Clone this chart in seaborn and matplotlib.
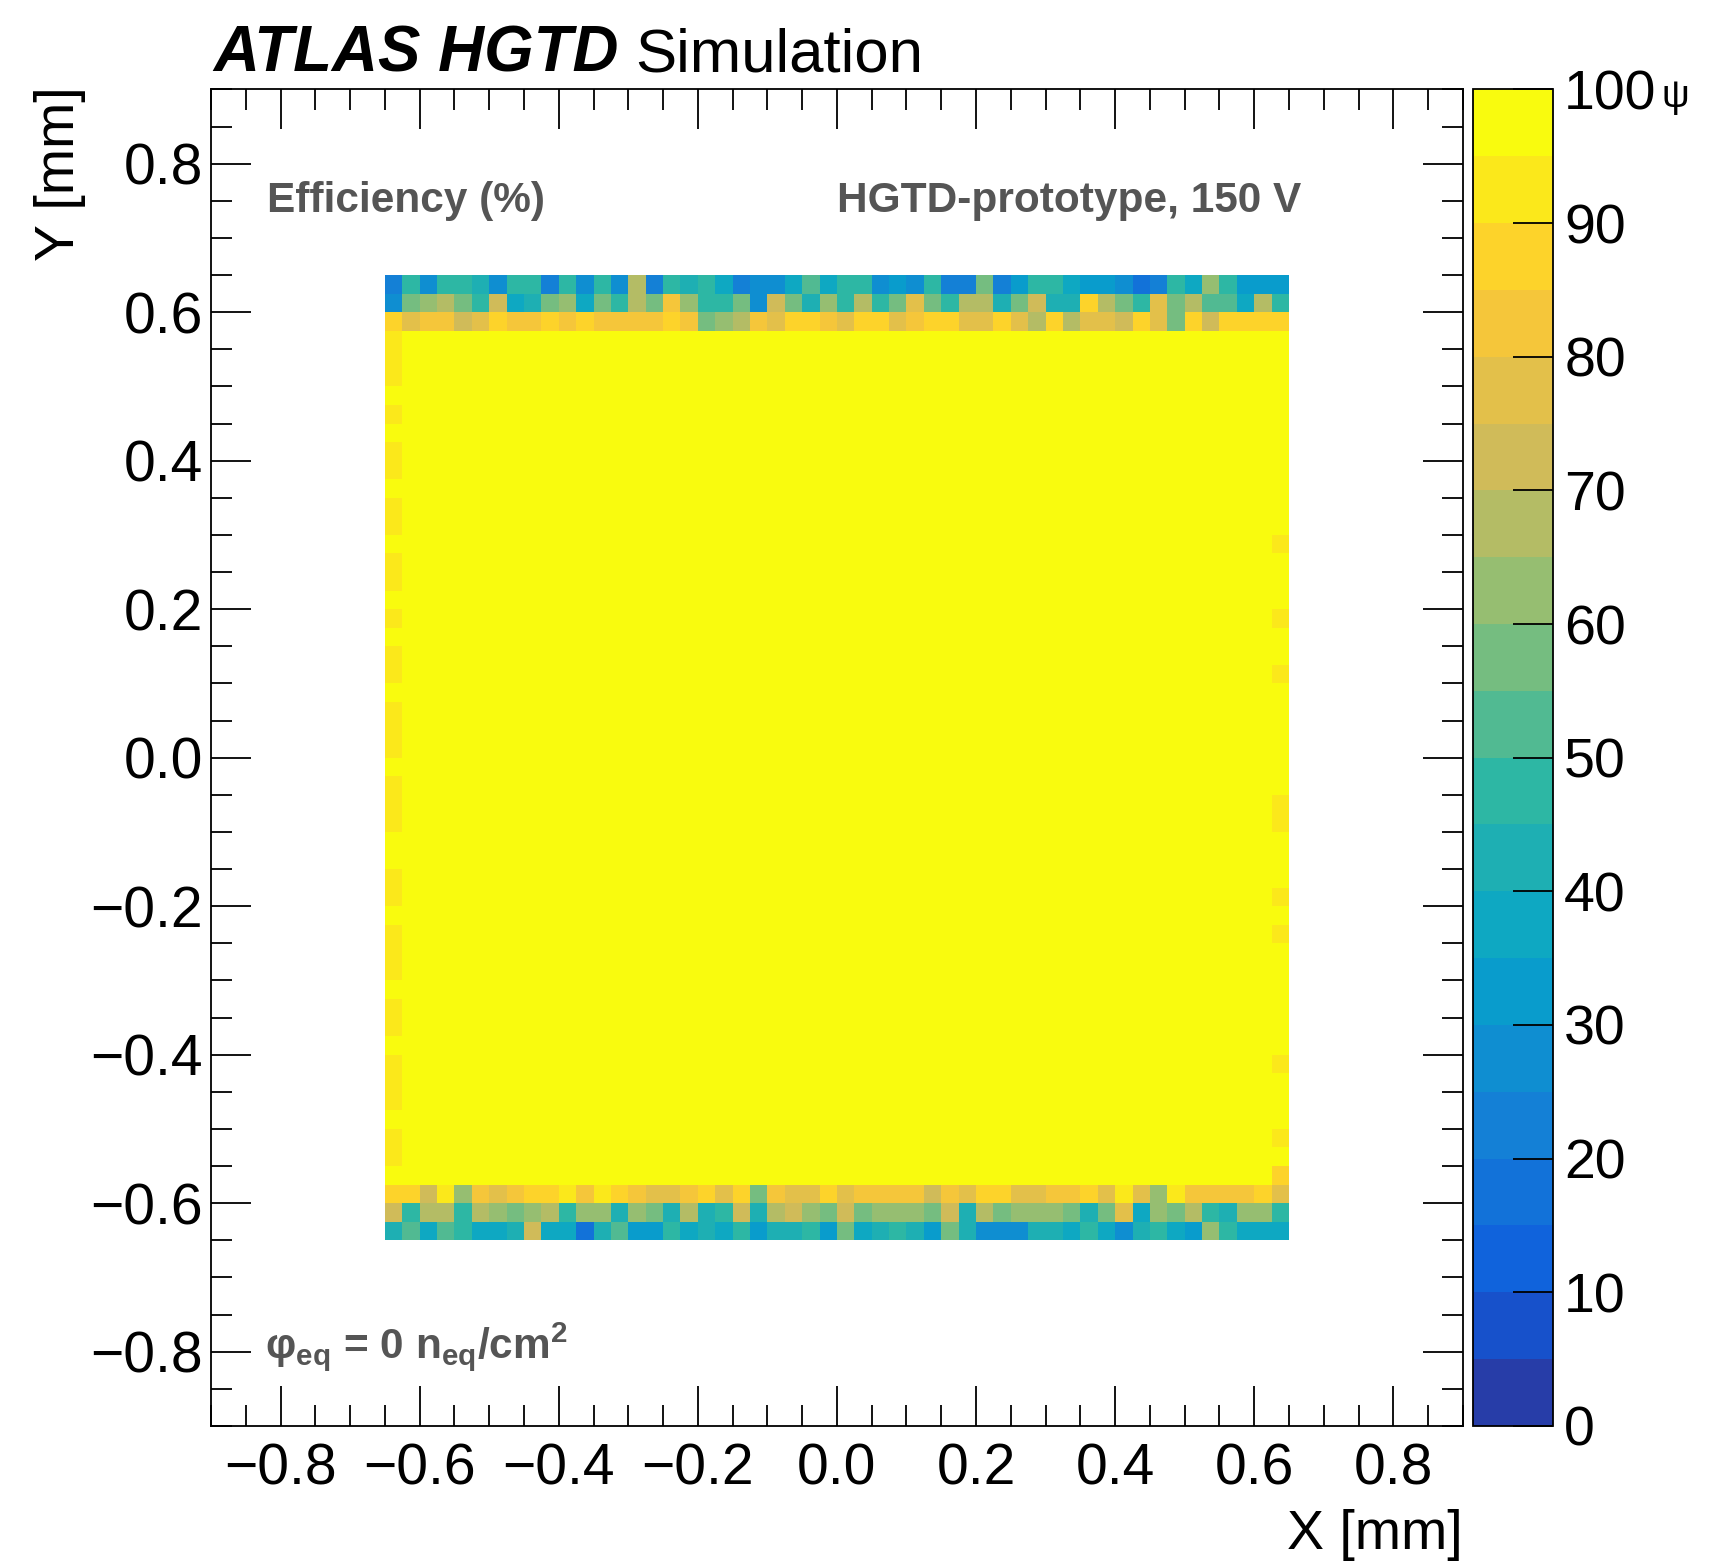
import matplotlib
matplotlib.use("Agg")
import matplotlib.pyplot as plt
import numpy as np
import pandas as pd
import seaborn as sns
from matplotlib.colors import LinearSegmentedColormap, ListedColormap

# efficiency map in 0.025 mm bins, sensor from -0.65 to 0.65 mm (52 x 52 bins)
bin_w = 0.025
n_sens = 52
x_lo, x_hi = -0.9, 0.9

# border rows, values in %, columns from x=-0.65 to x=0.65
row_p0625 = [22, 45, 27, 45, 45, 40, 27, 45, 45, 22, 45, 25, 45, 25, 65, 22, 47, 42, 48, 38, 22, 25, 27, 35, 50, 36,
             45, 45, 25, 33, 25, 47, 20, 23, 57, 23, 32, 48, 48, 37, 33, 33, 27, 17, 22, 47, 38, 60, 45, 30, 33, 33]
row_p0600 = [25, 58, 63, 67, 58, 47, 70, 37, 42, 57, 62, 38, 57, 48, 67, 58, 83, 60, 48, 48, 55, 27, 72, 55, 42, 62,
             48, 67, 48, 55, 75, 58, 47, 65, 67, 40, 55, 70, 42, 42, 87, 67, 55, 47, 77, 58, 67, 50, 50, 35, 67, 47]
row_p0575 = [85, 77, 80, 80, 70, 77, 86, 82, 82, 85, 80, 86, 82, 82, 80, 82, 86, 83, 55, 64, 68, 80, 76, 86, 88, 84,
             78, 88, 88, 78, 82, 88, 88, 78, 77, 85, 78, 67, 85, 67, 78, 77, 70, 88, 77, 57, 85, 73, 85, 87, 85, 87]
row_m0575 = [88, 88, 72, 92, 63, 80, 78, 80, 88, 85, 92, 84, 92, 88, 84, 77, 78, 80, 85, 77, 85, 55, 80, 78, 78, 88,
             77, 84, 84, 84, 84, 72, 84, 78, 88, 88, 78, 78, 83, 83, 87, 77, 92, 78, 62, 92, 84, 84, 84, 84, 88, 75]
row_m0600 = [72, 48, 67, 67, 47, 67, 62, 57, 60, 67, 48, 63, 63, 42, 63, 57, 42, 67, 42, 45, 70, 42, 65, 70, 62, 57,
             70, 58, 62, 62, 62, 57, 70, 42, 67, 55, 62, 63, 63, 57, 42, 57, 77, 37, 60, 57, 65, 45, 42, 62, 60, 48]
row_m0625 = [42, 52, 35, 52, 45, 35, 35, 40, 70, 38, 37, 18, 40, 50, 30, 33, 45, 35, 42, 37, 47, 30, 42, 42, 45, 32,
             55, 35, 40, 45, 40, 30, 57, 42, 25, 28, 25, 42, 42, 37, 45, 38, 25, 42, 47, 38, 30, 60, 48, 37, 35, 35]

# edge columns for the inner rows (y=-0.575 .. 0.575, bottom to top)
col_left = [97, 93, 92, 97, 93, 91, 93, 97, 93, 92, 96, 93, 91, 93, 97, 93, 92, 97, 96, 93, 92, 93, 97,
            93, 91, 93, 96, 92, 93, 97, 93, 96, 92, 93, 97, 91, 93, 96, 93, 92, 97, 93, 96, 92, 93, 94]
col_right = [89, 99, 93, 99, 99, 99, 92, 99, 99, 99, 99, 99, 99, 93, 99, 93, 99, 99, 99, 92, 93, 99, 99,
             99, 99, 99, 99, 92, 99, 99, 93, 99, 99, 99, 92, 99, 99, 99, 99, 99, 99, 99, 99, 99, 99, 99]
inner_eff = 99

# build the map (row 0 = bottom)
sens = np.full((n_sens, n_sens), inner_eff, dtype=float)
sens[0] = row_m0625
sens[1] = row_m0600
sens[2] = row_m0575
sens[49] = row_p0575
sens[50] = row_p0600
sens[51] = row_p0625
sens[3:49, 0] = col_left
sens[3:49, -1] = col_right

n_bins = int(round((x_hi - x_lo) / bin_w))
off = int(round((-0.65 - x_lo) / bin_w))
grid = np.full((n_bins, n_bins), np.nan)
grid[off:off + n_sens, off:off + n_sens] = sens
centers = np.round(x_lo + bin_w * (np.arange(n_bins) + 0.5), 4)
df = pd.DataFrame(grid[::-1], index=centers[::-1], columns=centers)

# ROOT kBird palette, 20 contour levels
stops = [0.0, 0.125, 0.25, 0.375, 0.5, 0.625, 0.75, 0.875, 1.0]
red = [0.2082, 0.0592, 0.0780, 0.0232, 0.1802, 0.5301, 0.8186, 0.9956, 0.9764]
green = [0.1664, 0.3599, 0.5041, 0.6419, 0.7178, 0.7492, 0.7328, 0.7862, 0.9832]
blue = [0.5293, 0.8684, 0.8385, 0.7914, 0.6425, 0.4662, 0.3499, 0.1968, 0.0539]
bird = LinearSegmentedColormap.from_list("bird", list(zip(stops, zip(red, green, blue))))
cmap = ListedColormap([bird(min((i + 0.99) / 20, 1.0)) for i in range(20)])

plt.rcParams['font.family'] = 'Liberation Sans'
plt.rcParams['mathtext.fontset'] = 'custom'
plt.rcParams['mathtext.rm'] = 'Liberation Sans'
plt.rcParams['mathtext.bf'] = 'Liberation Sans:bold'
plt.rcParams['mathtext.it'] = 'Liberation Sans:italic'

fig = plt.figure(figsize=(17.11, 15.63), dpi=100)
ax = fig.add_axes([0.1233, 0.0877, 0.7317, 0.8551])
cax = fig.add_axes([0.8609, 0.0877, 0.0468, 0.8551])

sns.heatmap(df, ax=ax, cmap=cmap, vmin=0, vmax=100, mask=df.isna(), cbar_ax=cax,
            xticklabels=False, yticklabels=False, linewidths=0)

for s in ax.spines.values():
    s.set_visible(True)
    s.set_linewidth(1.3)
    s.set_color('black')


def lab(v):
    t = f"{v:.1f}"
    if t == "-0.0":
        t = "0.0"
    return t.replace("-", "\u2212")


major = np.round(np.arange(-0.8, 0.81, 0.2), 2)
minor = np.round(np.arange(-0.9, 0.91, 0.05), 2)
ax.set_xticks((major - x_lo) / bin_w)
ax.set_xticklabels([lab(v) for v in major])
ax.set_xticks((minor - x_lo) / bin_w, minor=True)
ax.set_yticks((x_hi - major) / bin_w)
ax.set_yticklabels([lab(v) for v in major])
ax.set_yticks((x_hi - minor) / bin_w, minor=True)
ax.tick_params(which='both', direction='in', top=True, right=True, width=1.3,
               labelsize=41, labelrotation=0)
ax.tick_params(which='major', length=29)
ax.tick_params(which='minor', length=15)
ax.tick_params(axis='x', pad=12)
ax.tick_params(axis='y', pad=6)
ax.set_xlabel("")
ax.set_ylabel("")

cb = ax.collections[0].colorbar
cb.outline.set_linewidth(1.3)
cb.outline.set_edgecolor('black')
cb.set_ticks(np.arange(0, 101, 10))
cax.yaxis.set_ticks_position('right')
cax.tick_params(direction='in', length=29, width=1.3, pad=8, labelsize=40)
cax.minorticks_off()

fig.text(0.1245, 0.954, "ATLAS HGTD", fontsize=45.8, fontweight='bold',
         fontstyle='italic', va='baseline')
fig.text(0.3715, 0.954, "Simulation", fontsize=44.5, va='baseline')

grey = '#555555'
ax.text(0.045, 0.9086, "Efficiency (%)", transform=ax.transAxes, fontsize=30.5,
        fontweight='bold', color=grey, va='baseline')
ax.text(0.871, 0.9086, "HGTD-prototype, 150 V", transform=ax.transAxes, fontsize=30.5,
        fontweight='bold', color=grey, va='baseline', ha='right')
ax.text(0.043, 0.0504, "\u03c6" + r"$_{\mathbf{eq}}$ = 0 n$_{\mathbf{eq}}$/cm$^{\mathbf{2}}$",
        transform=ax.transAxes, fontsize=30.5, fontweight='bold', color=grey, va='baseline')

fig.text(0.035, 0.9445, "Y [mm]", rotation=90, ha='center', va='top', fontsize=40)
fig.text(0.855, 0.009, "X [mm]", ha='right', va='baseline', fontsize=40)
fig.text(0.979, 0.938, "\u03c8", ha='center', va='center', fontsize=28)

fig.savefig("out.png", dpi=100)
